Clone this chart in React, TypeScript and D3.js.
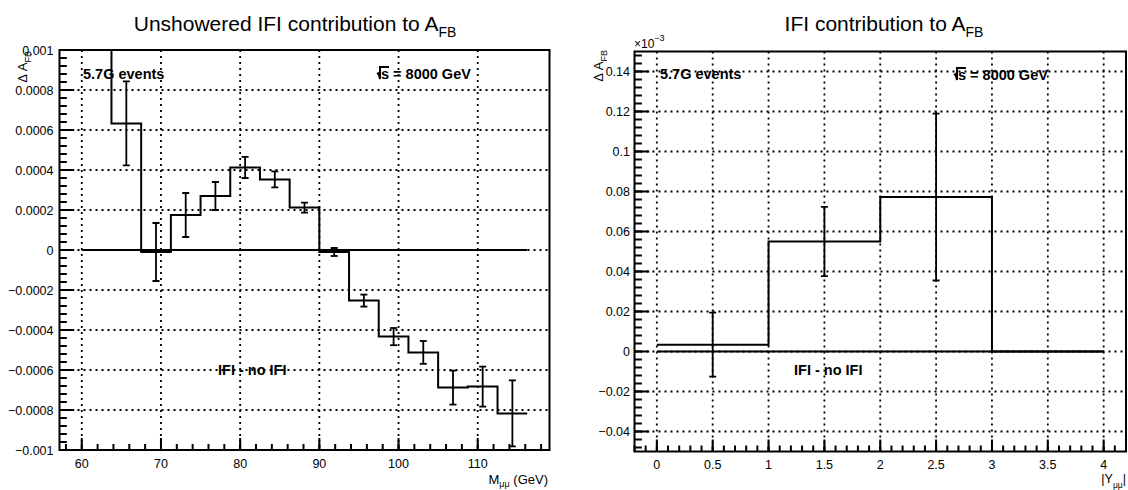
import React from "react";
import * as d3 from "d3";

// ---------- data: left panel (A_FB vs M_mumu) ----------
const massEdges = [60, 63.75, 67.5, 71.25, 75, 78.75, 82.5, 86.25, 90, 93.75, 97.5, 101.25, 105, 108.75, 112.5, 116.25];
const massAfb = [0.00135, 0.000633, -0.00001, 0.000175, 0.00027, 0.000413, 0.000353, 0.000212, -0.00001, -0.000253, -0.000433, -0.000512, -0.000688, -0.000683, -0.000817];
const massErr = [0.0002, 0.00021, 0.000145, 0.00011, 0.00007, 0.000053, 0.00004, 0.000025, 0.00002, 0.00003, 0.000043, 0.000057, 0.000085, 0.0001, 0.000165];
const massTicks = [60, 70, 80, 90, 100, 110];
const massTickLabels = ["60", "70", "80", "90", "100", "110"];
const afbTicks = [0.001, 0.0008, 0.0006, 0.0004, 0.0002, 0, -0.0002, -0.0004, -0.0006, -0.0008, -0.001];
const afbTickLabels = ["0.001", "0.0008", "0.0006", "0.0004", "0.0002", "0", "\u22120.0002", "\u22120.0004", "\u22120.0006", "\u22120.0008", "\u22120.001"];

// ---------- data: right panel (Delta A_FB vs |Y|), in units of 1e-3 ----------
const rapEdges = [0, 1, 2, 3, 4];
const rapDelta = [0.0034, 0.055, 0.0772, 0];
const rapErr = [0.016, 0.0173, 0.0417, 0];
const rapTicks = [0, 0.5, 1, 1.5, 2, 2.5, 3, 3.5, 4];
const rapTickLabels = ["0", "0.5", "1", "1.5", "2", "2.5", "3", "3.5", "4"];
const dTicks = [0.14, 0.12, 0.1, 0.08, 0.06, 0.04, 0.02, 0, -0.02, -0.04];
const dTickLabels = ["0.14", "0.12", "0.1", "0.08", "0.06", "0.04", "0.02", "0", "\u22120.02", "\u22120.04"];

const FONT = "'Liberation Sans', Arial, Helvetica, sans-serif";
const DOT = "2 4";

type PanelProps = {
  id: string;
  fx0: number; fx1: number; fy0: number; fy1: number;
  xDomain: [number, number]; yDomain: [number, number];
  edges: number[]; values: number[]; errs: number[];
  xTicks: number[]; xLabels: string[]; xMinor: number;
  yTicks: number[]; yLabels: string[]; yMinor: number;
  xLabelBase: number; yLabelGap: number;
};

function Panel(p: PanelProps) {
  const x = d3.scaleLinear().domain(p.xDomain).range([p.fx0, p.fx1]);
  const y = d3.scaleLinear().domain(p.yDomain).range([p.fy1, p.fy0]);
  const pts: [number, number][] = p.edges.map((e, i) => [e, p.values[Math.min(i, p.values.length - 1)]]);
  const line = d3.line<[number, number]>().x(d => x(d[0])).y(d => y(d[1])).curve(d3.curveStepAfter);
  const eps = 1e-9;
  const xMinorTicks = d3.range(Math.ceil(p.xDomain[0] / p.xMinor - eps) * p.xMinor, p.xDomain[1] + eps, p.xMinor);
  const yMinorTicks = d3.range(Math.ceil(p.yDomain[0] / p.yMinor - eps) * p.yMinor, p.yDomain[1] + eps, p.yMinor);
  const w = p.fx1 - p.fx0;
  const h = p.fy1 - p.fy0;
  const yMaj = 0.03 * w, yMin = 0.015 * w;
  const xMaj = 0.03 * h, xMin = 0.015 * h;
  const centers = p.values.map((_, i) => (p.edges[i] + p.edges[i + 1]) / 2);
  return (
    <g>
      <defs>
        <clipPath id={p.id}>
          <rect x={p.fx0} y={p.fy0} width={w} height={h} />
        </clipPath>
      </defs>
      {/* grid */}
      <g stroke="#000" strokeWidth={1.8} strokeDasharray={DOT} fill="none">
        {p.xTicks.map((t, i) => (
          <line key={"gx" + i} x1={x(t)} x2={x(t)} y1={p.fy0} y2={p.fy1} />
        ))}
        {p.yTicks.map((t, i) => (
          <line key={"gy" + i} x1={p.fx0} x2={p.fx1} y1={y(t)} y2={y(t)} />
        ))}
      </g>
      <g clipPath={`url(#${p.id})`}>
        {/* zero line */}
        <line x1={x(p.edges[0])} x2={x(p.edges[p.edges.length - 1])} y1={y(0)} y2={y(0)} stroke="#000" strokeWidth={2} />
        {/* histogram */}
        <path d={line(pts) || ""} fill="none" stroke="#000" strokeWidth={2} />
        {/* error bars */}
        <g stroke="#000" strokeWidth={1.8}>
          {p.values.map((v, i) =>
            p.errs[i] > 0 ? (
              <g key={"e" + i}>
                <line x1={x(centers[i])} x2={x(centers[i])} y1={y(v - p.errs[i])} y2={y(v + p.errs[i])} />
                <line x1={x(centers[i]) - 3.5} x2={x(centers[i]) + 3.5} y1={y(v - p.errs[i])} y2={y(v - p.errs[i])} />
                <line x1={x(centers[i]) - 3.5} x2={x(centers[i]) + 3.5} y1={y(v + p.errs[i])} y2={y(v + p.errs[i])} />
              </g>
            ) : null
          )}
        </g>
      </g>
      {/* frame */}
      <rect x={p.fx0} y={p.fy0} width={w} height={h} fill="none" stroke="#000" strokeWidth={2} />
      {/* ticks */}
      <g stroke="#000" strokeWidth={2}>
        {p.yTicks.map((t, i) => (
          <line key={"ty" + i} x1={p.fx0} x2={p.fx0 + yMaj} y1={y(t)} y2={y(t)} />
        ))}
        {yMinorTicks.map((t, i) => (
          <line key={"tym" + i} x1={p.fx0} x2={p.fx0 + yMin} y1={y(t)} y2={y(t)} />
        ))}
        {p.xTicks.map((t, i) => (
          <line key={"tx" + i} x1={x(t)} x2={x(t)} y1={p.fy1} y2={p.fy1 - xMaj} />
        ))}
        {xMinorTicks.map((t, i) => (
          <line key={"txm" + i} x1={x(t)} x2={x(t)} y1={p.fy1} y2={p.fy1 - xMin} />
        ))}
      </g>
      {/* tick labels */}
      <g fontFamily={FONT} fontSize={12.5} fill="#000">
        {p.yTicks.map((t, i) => (
          <text key={"ly" + i} x={p.fx0 - p.yLabelGap} y={y(t) + 4.5} textAnchor="end">{p.yLabels[i]}</text>
        ))}
        {p.xTicks.map((t, i) => (
          <text key={"lx" + i} x={x(t)} y={p.xLabelBase} textAnchor="middle">{p.xLabels[i]}</text>
        ))}
      </g>
    </g>
  );
}

function SqrtS({ x, y }: { x: number; y: number }) {
  return (
    <g>
      <path d={`M${x},${y - 5} L${x + 1.5},${y - 6} L${x + 3},${y} L${x + 3},${y - 12} L${x + 12},${y - 12}`} fill="none" stroke="#000" strokeWidth={2} />
      <text x={x + 4} y={y} fontFamily={FONT} fontWeight="bold" fontSize={14.5}>s = 8000 GeV</text>
    </g>
  );
}

export default function App() {
  return (
    <svg width={1128} height={490} style={{ position: "absolute", left: 0, top: 0, background: "#fff" }}>
      <rect x={0} y={0} width={1128} height={490} fill="#fff" />
      {/* ---------- left panel ---------- */}
      <text x={295} y={31} textAnchor="middle" fontFamily={FONT} fontSize={21}>
        Unshowered IFI contribution to A<tspan dy={6} fontSize={14}>FB</tspan>
      </text>
      <Panel
        id="clipL"
        fx0={59.5} fx1={549.5} fy0={50} fy1={450}
        xDomain={[57.1875, 119.0625]} yDomain={[-0.001, 0.001]}
        edges={massEdges} values={massAfb} errs={massErr}
        xTicks={massTicks} xLabels={massTickLabels} xMinor={2}
        yTicks={afbTicks} yLabels={afbTickLabels} yMinor={0.00004}
        xLabelBase={468} yLabelGap={6}
      />
      <text transform="translate(27,51) rotate(-90)" textAnchor="end" fontFamily={FONT} fontSize={13}>
        {"\u0394 A"}<tspan dy={4} fontSize={9}>FB</tspan>
      </text>
      <text x={548} y={484} textAnchor="end" fontFamily={FONT} fontSize={13}>
        M<tspan dy={3} fontSize={9}>{"\u03bc\u03bc"}</tspan><tspan dy={-3}> (GeV)</tspan>
      </text>
      <text x={83} y={79} fontFamily={FONT} fontWeight="bold" fontSize={14.5}>5.7G events</text>
      <SqrtS x={377} y={79} />
      <text x={218} y={375} fontFamily={FONT} fontWeight="bold" fontSize={14.5}>IFI - no IFI</text>

      {/* ---------- right panel ---------- */}
      <text x={884} y={31} textAnchor="middle" fontFamily={FONT} fontSize={21}>
        IFI contribution to A<tspan dy={6} fontSize={14}>FB</tspan>
      </text>
      <Panel
        id="clipR"
        fx0={634.5} fx1={1126} fy0={51.5} fy1={451.5}
        xDomain={[-0.2, 4.2]} yDomain={[-0.05, 0.15]}
        edges={rapEdges} values={rapDelta} errs={rapErr}
        xTicks={rapTicks} xLabels={rapTickLabels} xMinor={0.1}
        yTicks={dTicks} yLabels={dTickLabels} yMinor={0.004}
        xLabelBase={469} yLabelGap={4.5}
      />
      <text x={634} y={48} fontFamily={FONT} fontSize={12}>
        {"\u00d710"}<tspan dy={-7} fontSize={9}>{"\u22123"}</tspan>
      </text>
      <text transform="translate(603,50) rotate(-90)" textAnchor="end" fontFamily={FONT} fontSize={13}>
        {"\u0394 A"}<tspan dy={4} fontSize={9}>FB</tspan>
      </text>
      <text x={1126} y={483} textAnchor="end" fontFamily={FONT} fontSize={12.5}>
        |Y<tspan dy={5} fontSize={8.5}>{"\u03bc\u03bc"}</tspan><tspan dy={-5}>|</tspan>
      </text>
      <text x={660} y={79} fontFamily={FONT} fontWeight="bold" fontSize={14.5}>5.7G events</text>
      <SqrtS x={954} y={80} />
      <text x={794} y={375} fontFamily={FONT} fontWeight="bold" fontSize={14.5}>IFI - no IFI</text>
    </svg>
  );
}
